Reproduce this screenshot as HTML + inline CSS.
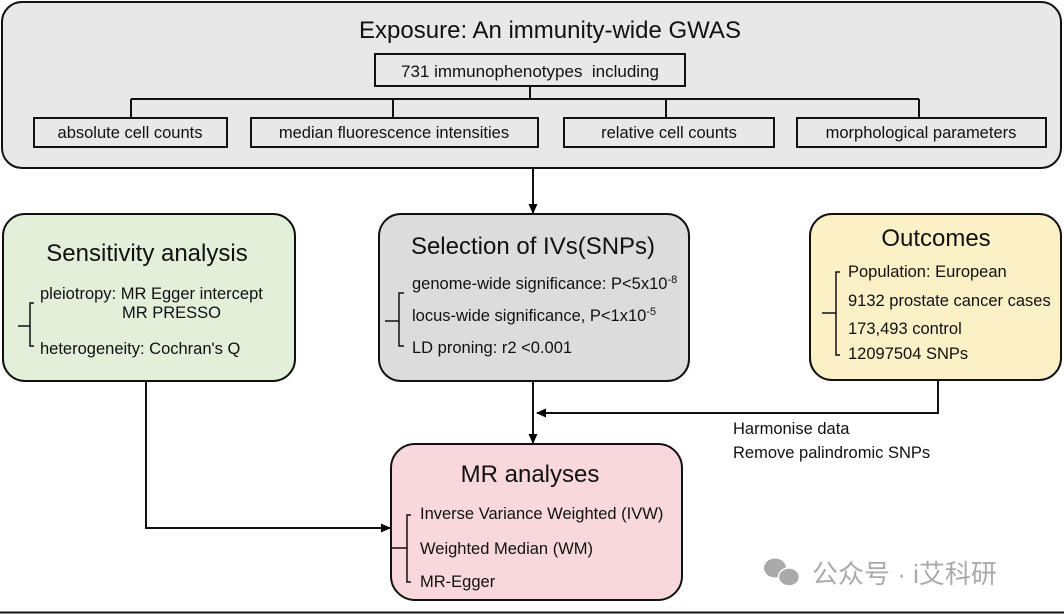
<!DOCTYPE html>
<html><head><meta charset="utf-8"><style>
html,body{margin:0;padding:0;background:#fff;}
svg{display:block;}
text{font-family:"Liberation Sans",Arial,sans-serif;fill:#111;}
</style></head><body>
<svg width="1064" height="614" viewBox="0 0 1064 614" xmlns="http://www.w3.org/2000/svg">
<defs><marker id="a" markerWidth="10" markerHeight="10" refX="9" refY="5" orient="auto" markerUnits="userSpaceOnUse"><path d="M0,0.5 L10,5 L0,9.5 z" fill="#000"/></marker></defs>
<rect x="2" y="2" width="1059" height="166" rx="20" fill="#e8e8e8" stroke="#111" stroke-width="2"/>
<text x="550" y="38" font-size="24" text-anchor="middle">Exposure: An immunity-wide GWAS</text>
<rect x="375" y="54" width="310" height="32" fill="#e8e8e8" stroke="#111" stroke-width="2"/>
<text x="530" y="77" font-size="17" text-anchor="middle" xml:space="preserve">731 immunophenotypes  including</text>
<path d="M530,86 V99 M131,99 H919 M131,99 V118 M393,99 V118 M666,99 V118 M919,99 V118" stroke="#111" stroke-width="2" fill="none"/>
<rect x="34" y="118" width="193" height="29" fill="#e8e8e8" stroke="#111" stroke-width="2"/>
<text x="130" y="138" font-size="16.5" text-anchor="middle">absolute cell counts</text>
<rect x="251" y="118" width="287" height="29" fill="#e8e8e8" stroke="#111" stroke-width="2"/>
<text x="394" y="138" font-size="16.5" text-anchor="middle">median fluorescence intensities</text>
<rect x="564" y="118" width="210" height="29" fill="#e8e8e8" stroke="#111" stroke-width="2"/>
<text x="669" y="138" font-size="16.5" text-anchor="middle">relative cell counts</text>
<rect x="797" y="118" width="249" height="29" fill="#e8e8e8" stroke="#111" stroke-width="2"/>
<text x="921" y="138" font-size="16.5" text-anchor="middle">morphological parameters</text>
<line x1="533" y1="168" x2="533" y2="213" stroke="#111" stroke-width="2" marker-end="url(#a)"/>
<rect x="3" y="214" width="292" height="167" rx="22" fill="#e3efd9" stroke="#111" stroke-width="2"/>
<text x="147" y="261" font-size="24" text-anchor="middle">Sensitivity analysis</text>
<text x="40" y="299" font-size="16.5">pleiotropy: MR Egger intercept</text>
<text x="122" y="318" font-size="16.5">MR PRESSO</text>
<text x="40" y="354" font-size="16.5">heterogeneity: Cochran's Q</text>
<path d="M34,303 H30 V346 H34 M18,326 H30" stroke="#111" stroke-width="1.5" fill="none"/>
<rect x="379" y="214" width="310" height="167" rx="22" fill="#dcdcdc" stroke="#111" stroke-width="2"/>
<text x="533" y="254" font-size="24" text-anchor="middle">Selection of IVs(SNPs)</text>
<text x="412" y="289" font-size="16.5">genome-wide significance: P&lt;5x10<tspan font-size="11" dy="-6">-8</tspan></text>
<text x="412" y="321" font-size="16.5">locus-wide significance, P&lt;1x10<tspan font-size="11" dy="-6">-5</tspan></text>
<text x="412" y="353" font-size="16.5">LD proning: r2 &lt;0.001</text>
<path d="M404,293 H399 V346 H404 M385,321 H399" stroke="#111" stroke-width="1.5" fill="none"/>
<rect x="810" y="214" width="251" height="166" rx="22" fill="#fcf0c6" stroke="#111" stroke-width="2"/>
<text x="936" y="246" font-size="24" text-anchor="middle">Outcomes</text>
<text x="848" y="277" font-size="16.5">Population: European</text>
<text x="848" y="306" font-size="16.5">9132 prostate cancer cases</text>
<text x="848" y="334" font-size="16.5">173,493 control</text>
<text x="848" y="359" font-size="16.5">12097504 SNPs</text>
<path d="M840,272 H836 V355 H840 M822,313 H836" stroke="#111" stroke-width="1.5" fill="none"/>
<line x1="533" y1="381" x2="533" y2="443" stroke="#111" stroke-width="2" marker-end="url(#a)"/>
<polyline points="938,380 938,413 537,413" stroke="#111" stroke-width="2" fill="none" marker-end="url(#a)"/>
<text x="733" y="434" font-size="16.5">Harmonise data</text>
<text x="733" y="458" font-size="16.5">Remove palindromic SNPs</text>
<polyline points="146,381 146,528 390,528" stroke="#111" stroke-width="2" fill="none" marker-end="url(#a)"/>
<rect x="391" y="444" width="291" height="156" rx="24" fill="#f8d8dd" stroke="#111" stroke-width="2"/>
<text x="530" y="482" font-size="24" text-anchor="middle">MR analyses</text>
<text x="420" y="519" font-size="16.5">Inverse Variance Weighted (IVW)</text>
<text x="420" y="554" font-size="16.5">Weighted Median (WM)</text>
<text x="420" y="587" font-size="16.5">MR-Egger</text>
<path d="M411,515 H407 V582 H411 M392,548 H407" stroke="#111" stroke-width="1.5" fill="none"/>
<g fill="#aaa">
<ellipse cx="775" cy="568" rx="11" ry="9.5"/>
<ellipse cx="789" cy="577" rx="10.5" ry="9" stroke="#fff" stroke-width="1.5"/>
</g>
<text x="812" y="583" font-size="26" style="fill:#aaa;font-family:'Liberation Sans','Noto Sans CJK SC',sans-serif">公众号 · i艾科研</text>
<line x1="0" y1="612.5" x2="1064" y2="612.5" stroke="#111" stroke-width="2"/>
</svg>
</body></html>
